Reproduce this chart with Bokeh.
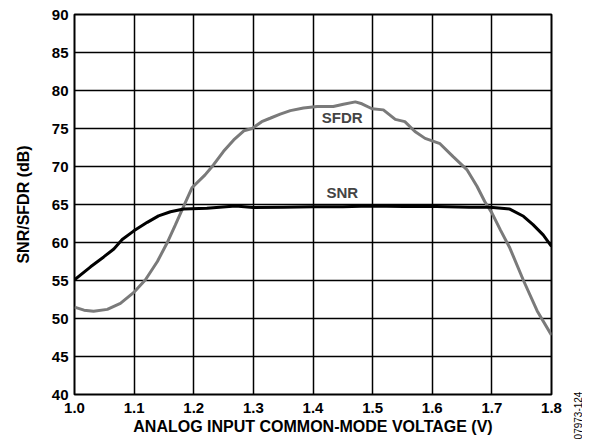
import numpy as np
from bokeh.plotting import figure
from bokeh.models import FixedTicker, PrintfTickFormatter, Label
from bokeh.embed import file_html
from bokeh.resources import INLINE

# SNR curve
snr_v = [1.0, 1.027, 1.049, 1.066, 1.080, 1.099, 1.122, 1.141, 1.161, 1.183, 1.222,
         1.27, 1.30, 1.35, 1.40, 1.45, 1.496, 1.552, 1.607, 1.662, 1.697, 1.73,
         1.753, 1.769, 1.786, 1.80]
snr_db = [55.1, 56.8, 58.1, 59.15, 60.4, 61.5, 62.65, 63.5, 64.05, 64.4, 64.5,
          64.8, 64.6, 64.65, 64.7, 64.7, 64.8, 64.75, 64.75, 64.65, 64.65, 64.4,
          63.45, 62.35, 61.0, 59.5]

# SFDR curve
sfdr_v = [1.0, 1.016, 1.032, 1.055, 1.077, 1.099, 1.119, 1.139, 1.155, 1.169, 1.183,
          1.197, 1.219, 1.233, 1.25, 1.267, 1.284, 1.298, 1.314, 1.328, 1.345, 1.362,
          1.384, 1.407, 1.434, 1.451, 1.471, 1.482, 1.499, 1.518, 1.538, 1.554, 1.571,
          1.588, 1.613, 1.635, 1.658, 1.675, 1.688, 1.70, 1.714, 1.73, 1.753, 1.776,
          1.80]
sfdr_db = [51.5, 51.1, 50.95, 51.2, 52.0, 53.4, 55.1, 57.5, 59.9, 62.3, 64.75,
           67.2, 68.9, 70.2, 72.0, 73.5, 74.7, 75.0, 75.9, 76.35, 76.9, 77.35,
           77.7, 77.9, 77.9, 78.2, 78.5, 78.25, 77.6, 77.45, 76.2, 75.9, 74.6,
           73.7, 73.0, 71.3, 69.6, 67.4, 65.4, 63.9, 61.7, 59.3, 55.0, 51.0,
           47.8]

x_ticks = [1.0, 1.1, 1.2, 1.3, 1.4, 1.5, 1.6, 1.7, 1.8]
y_ticks = [40, 45, 50, 55, 60, 65, 70, 75, 80, 85, 90]
x_title = "ANALOG INPUT COMMON-MODE VOLTAGE (V)"
y_title = "SNR/SFDR (dB)"
fig_id = "07973-124"

FONT = "Liberation Sans"

p = figure(width=582, height=440, output_backend="svg", toolbar_location=None,
           x_range=(1.0, 1.8), y_range=(40, 90),
           min_border_left=74, min_border_right=31, min_border_top=14,
           min_border_bottom=46)
p.background_fill_color = "white"
p.border_fill_color = "white"
p.outline_line_color = "black"
p.outline_line_width = 2

for ax in (p.xaxis[0], p.yaxis[0]):
    ax.axis_line_color = None
    ax.major_tick_line_color = None
    ax.minor_tick_line_color = None
    ax.major_tick_out = 0
    ax.major_tick_in = 0
    ax.major_label_text_font = FONT
    ax.major_label_text_font_style = "bold"
    ax.major_label_text_font_size = "15px"
    ax.major_label_text_color = "black"
    ax.axis_label_text_font = FONT
    ax.axis_label_text_font_style = "bold"
    ax.axis_label_text_color = "black"

p.xaxis.ticker = FixedTicker(ticks=x_ticks)
p.yaxis.ticker = FixedTicker(ticks=y_ticks)
p.xaxis.formatter = PrintfTickFormatter(format="%.1f")
p.xaxis.major_label_standoff = 8
p.yaxis.major_label_standoff = 6
p.xaxis.axis_label = x_title
p.yaxis.axis_label = y_title
p.xaxis.axis_label_text_font_size = "16px"
p.yaxis.axis_label_text_font_size = "16px"
p.xaxis.axis_label_standoff = 2
p.yaxis.axis_label_standoff = 17

p.xgrid.grid_line_color = "black"
p.ygrid.grid_line_color = "black"
p.xgrid.grid_line_width = 1.5
p.ygrid.grid_line_width = 1.5
p.xgrid.grid_line_alpha = 1
p.ygrid.grid_line_alpha = 1

p.line(sfdr_v, sfdr_db, line_color="#7a7a7a", line_width=3)
p.line(snr_v, snr_db, line_color="black", line_width=3)

p.add_layout(Label(x=1.449, y=76.4, text="SFDR", text_font=FONT, text_font_style="bold",
                   text_font_size="15px", text_align="center", text_baseline="middle",
                   background_fill_color="white"))
p.add_layout(Label(x=1.449, y=66.55, text="SNR", text_font=FONT, text_font_style="bold",
                   text_font_size="15px", text_align="center", text_baseline="middle",
                   background_fill_color="white"))
p.add_layout(Label(x=26, y=-21, x_units="screen", y_units="screen", text=fig_id,
                   text_font=FONT, text_font_size="10px", text_color="black",
                   text_align="center", text_baseline="middle", angle=np.pi / 2),
             "right")

open("out.html", "w").write(file_html(p, INLINE))
